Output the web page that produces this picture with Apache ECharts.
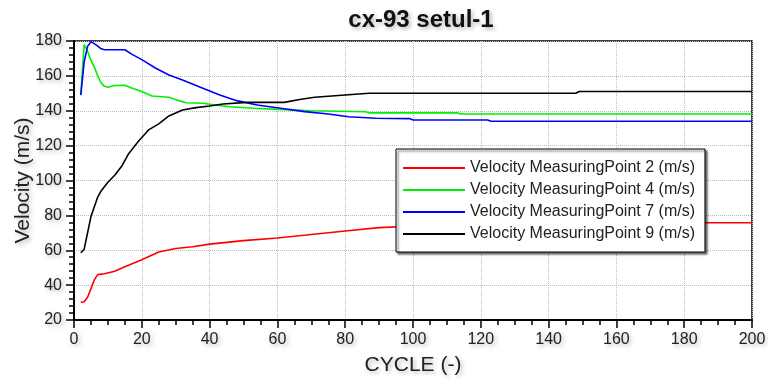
<!DOCTYPE html>
<html>
<head>
<meta charset="utf-8">
<script src="https://cdn.jsdelivr.net/npm/echarts@6/dist/echarts.min.js"></script>
<style>
  html, body { margin: 0; padding: 0; background: #fff; }
  #chart { width: 768px; height: 380px; }
</style>
</head>
<body>
<div id="chart"></div>
<script>
// 各测点速度 [cycle, m/s]
const seriesNames = [
  'Velocity MeasuringPoint 2 (m/s)',
  'Velocity MeasuringPoint 4 (m/s)',
  'Velocity MeasuringPoint 7 (m/s)',
  'Velocity MeasuringPoint 9 (m/s)'
]
const seriesColors = ['#ff0000', '#00ee00', '#0000ff', '#000000']

const point2 = [[2, 30], [3, 30.5], [4, 33], [5, 38], [6, 43], [7, 46], [9, 46.5], [12, 48], [15, 50.5],
  [20, 54.5], [25, 59], [30, 61], [35, 62], [40, 63.5], [45, 64.5], [50, 65.5], [60, 67], [70, 69],
  [80, 71], [90, 73], [100, 73.8], [120, 74.5], [150, 75], [180, 75.5], [186, 75.8], [200, 75.8]]

const point4 = [[2, 149], [3, 178], [4, 174], [5, 169], [6, 165], [7, 160], [8, 156], [9, 154], [10, 153.5],
  [12, 154.5], [15, 154.6], [17, 153], [20, 151], [23, 148.5], [28, 147.7], [31, 145.8], [33, 144.6],
  [38, 144.3], [42, 143.2], [46, 142.3], [53, 141.4], [60, 140.8], [70, 140], [86, 139.4], [87, 138.8],
  [113, 138.8], [114, 138.1], [200, 138.1]]

const point7 = [[2, 149], [3, 168], [4, 177], [5, 179.5], [6, 178.5], [7, 177], [8, 175.5], [9, 175],
  [15, 175], [17, 172.5], [20, 169.3], [24, 164.5], [28, 160.5], [32, 157.6], [38, 152.9], [43, 149],
  [48, 145.8], [54, 143.3], [61, 141.4], [68, 139.5], [75, 138.1], [81, 136.6], [89, 135.7], [99, 135.5],
  [100, 134.7], [122, 134.7], [123, 134], [200, 134]]

const point9 = [[2, 58.6], [3, 60.6], [4, 70], [5, 79.3], [6, 85], [7, 90.5], [8, 94], [10, 99], [12, 103],
  [14, 108], [16, 115], [19, 122.5], [22, 129], [25, 132.5], [28, 137], [32, 140.4], [36, 141.8],
  [40, 142.7], [44, 143.9], [51, 144.8], [62, 144.8], [67, 146.6], [71, 147.7], [76, 148.5], [81, 149.2],
  [87, 150], [148, 150], [149, 151], [200, 151]]

const allPoints = [point2, point4, point7, point9]

const font = "'Liberation Sans', Arial, sans-serif"
const txtShadow = {
  textShadowColor: 'rgba(0,0,0,0.3)',
  textShadowBlur: 4,
  textShadowOffsetX: 2,
  textShadowOffsetY: 2
}

// 副刻度：叠加一根只画短刻度的轴
function minorAxis(pos, min, max, step) {
  return {
    type: 'value',
    position: pos,
    min: min,
    max: max,
    interval: step,
    axisLine: { show: false },
    axisTick: { show: true, inside: false, length: 5, lineStyle: { color: '#000', width: 1.5 } },
    axisLabel: { show: false },
    splitLine: { show: false }
  }
}

var myChart = echarts.init(document.getElementById('chart'))

myChart.setOption({
  animation: false,
  backgroundColor: '#fff',
  title: {
    text: 'cx-93 setul-1',
    left: 416,
    textAlign: 'center',
    top: 3,
    textStyle: { fontFamily: font, fontSize: 24, fontWeight: 'bold', color: '#111', ...txtShadow }
  },
  legend: {
    orient: 'vertical',
    left: 396,
    top: 149,
    padding: [11, 10, 10, 7],
    itemWidth: 62,
    itemHeight: 2,
    itemGap: 6,
    icon: 'rect',
    backgroundColor: '#fff',
    borderColor: '#000',
    borderWidth: 1,
    shadowColor: 'rgba(0,0,0,0.6)',
    shadowBlur: 2,
    shadowOffsetX: 2,
    shadowOffsetY: 2,
    textStyle: { fontFamily: font, fontSize: 16, color: '#222' },
    data: seriesNames
  },
  grid: {
    left: 74,
    right: 16,
    top: 41,
    bottom: 60,
    outerBoundsMode: 'none',
    containLabel: false,
    show: true,
    borderColor: '#000',
    borderWidth: 1.5
  },
  xAxis: [{
    type: 'value',
    position: 'bottom',
    min: 0,
    max: 200,
    interval: 20,
    name: 'CYCLE (-)',
    nameLocation: 'middle',
    nameGap: 35,
    nameMoveOverlap: false,
    nameTextStyle: { fontFamily: font, fontSize: 21, color: '#222', ...txtShadow },
    axisLine: { lineStyle: { color: '#000', width: 2 } },
    axisTick: { inside: false, length: 8, lineStyle: { color: '#000', width: 1.5 } },
    axisLabel: { margin: 12, fontFamily: font, fontSize: 16, color: '#222', ...txtShadow },
    splitLine: { show: true, lineStyle: { color: '#bbb', type: 'dotted', width: 1 } }
  }, minorAxis('bottom', 0, 200, 5)],
  yAxis: [{
    type: 'value',
    position: 'left',
    min: 20,
    max: 180,
    interval: 20,
    name: 'Velocity (m/s)',
    nameLocation: 'middle',
    nameGap: 40,
    nameMoveOverlap: false,
    nameTextStyle: { fontFamily: font, fontSize: 21, color: '#222', ...txtShadow },
    axisLine: { show: true, lineStyle: { color: '#000', width: 2 } },
    axisTick: { show: true, inside: false, length: 8, lineStyle: { color: '#000', width: 1.5 } },
    axisLabel: { margin: 12, fontFamily: font, fontSize: 16, color: '#222', ...txtShadow },
    splitLine: { show: true, lineStyle: { color: '#bbb', type: 'dotted', width: 1 } }
  }, minorAxis('left', 20, 180, 4)],
  series: allPoints.map((pts, i) => ({
    name: seriesNames[i],
    type: 'line',
    data: pts,
    symbol: 'none',
    color: seriesColors[i],
    lineStyle: { color: seriesColors[i], width: 1.6 }
  }))
})
</script>
</body>
</html>
